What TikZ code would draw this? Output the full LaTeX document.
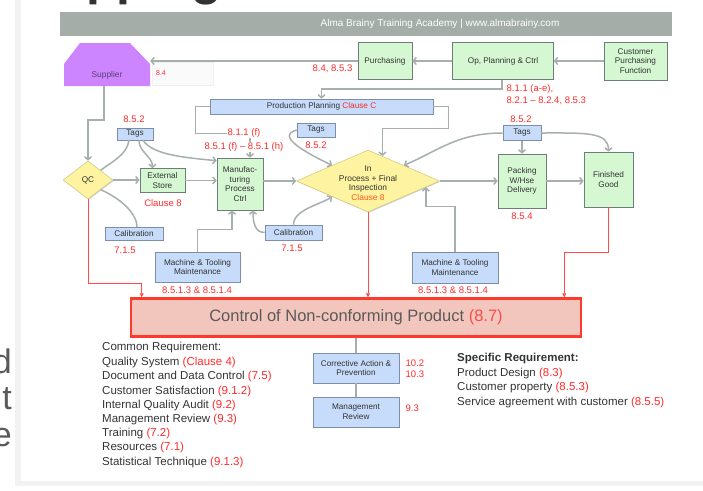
\documentclass[tikz,border=0pt]{standalone}
\usepackage{fontspec}
\setmainfont{Liberation Sans}
\usetikzlibrary{arrows.meta,shapes.geometric,shadows}
\definecolor{hdr}{HTML}{A4ADA8}
\definecolor{gfill}{HTML}{D5F7D2}
\definecolor{gline}{HTML}{6E7D78}
\definecolor{bfill}{HTML}{C6DCFA}
\definecolor{bline}{HTML}{7D8FA8}
\definecolor{yfill}{HTML}{FDF3A0}
\definecolor{yline}{HTML}{D6CC84}
\definecolor{cgray}{HTML}{A7AFAC}
\definecolor{rline}{HTML}{FF4B4B}
\definecolor{rtext}{HTML}{FF2A2A}
\definecolor{otext}{HTML}{FF5A1A}
\definecolor{purp}{HTML}{CC85FF}
\definecolor{suptext}{HTML}{5B3D78}
\definecolor{ncfill}{HTML}{F3C6BD}
\definecolor{ncline}{HTML}{FF3A2A}
\definecolor{txt}{HTML}{333333}
\definecolor{ltxt}{HTML}{5A5A5A}
\tikzset{
  box/.style={draw, line width=0.6pt, align=center, inner sep=1pt, text=txt,
    font=\fontsize{8.2}{9.8}\selectfont,
    drop shadow={shadow xshift=0.8pt,shadow yshift=-0.8pt,opacity=0.25,fill=black}},
  gbox/.style={box, fill=gfill, draw=gline},
  bbox/.style={box, fill=bfill, draw=bline},
  ydia/.style={diamond, fill=yfill, draw=yline, line width=0.6pt, inner sep=0pt,
    align=center, text=txt, font=\fontsize{8.2}{9.8}\selectfont,
    drop shadow={shadow xshift=0.8pt,shadow yshift=-0.8pt,opacity=0.2,fill=black}},
  dtext/.style={align=center, inner sep=0pt, text=txt, font=\fontsize{8.4}{9.6}\selectfont},
  conn/.style={draw=cgray, line width=1.5pt, -{Straight Barb[length=3pt,width=7pt]}},
  plain/.style={draw=cgray, line width=1.5pt},
  rconn/.style={draw=rline, line width=0.8pt, -{Triangle[length=4pt,width=4pt]}},
  rlab/.style={text=rtext, inner sep=0.5pt, font=\fontsize{9.5}{11}\selectfont},
  lst/.style={anchor=mid west, inner sep=0pt, text=txt, font=\fontsize{11.5}{14}\selectfont},
}
\begin{document}
\begin{tikzpicture}[x=1pt,y=-1pt]
\useasboundingbox (0,0) rectangle (703,490);
% surrounding page
\node[anchor=base west, inner sep=0pt, text=txt, font=\fontsize{50}{50}\selectfont\bfseries] (ttl) at (86,-5.5) {pping};
\node[anchor=base east, inner sep=0pt, text=ltxt, font=\fontsize{34}{34}\selectfont] (la) at (12,373) {d};
\node[anchor=base east, inner sep=0pt, text=ltxt, font=\fontsize{34}{34}\selectfont] (lb) at (12,409) {t};
\node[anchor=base east, inner sep=0pt, text=ltxt, font=\fontsize{34}{34}\selectfont] (lc) at (12,446) {e};
\fill[gray!10] (15,-2) rectangle (21,486);
\fill[gray!10] (15,481) rectangle (710,486);
% header
\node[fill=hdr, minimum width=612, minimum height=24, inner sep=0pt] (hdr) at (366,24) {};
\node[text=white, inner sep=0pt, font=\fontsize{10}{12}\selectfont] (hdrt) at (440,24) {Alma Brainy Training Academy | www.almabrainy.com};
% supplier
\fill[purp] (80,43) -- (130,43) -- (150,64) -- (150,86) -- (64,86) -- (64,64) -- cycle;
\node[inner sep=0pt, minimum width=86, minimum height=22, text=suptext, font=\fontsize{8.4}{10}\selectfont] (sup) at (107,75) {Supplier};
\node[draw=gray!12, fill=gray!4, minimum width=61, minimum height=23, inner sep=0pt] (fb) at (182.5,74) {};
\node[rlab, font=\fontsize{7}{8}\selectfont] (supr) at (161,73) {8.4};
% top row
\node[gbox, minimum width=54, minimum height=37] (pur) at (385,61) {Purchasing};
\node[gbox, minimum width=101, minimum height=37] (op) at (503,61) {Op, Planning \& Ctrl};
\node[gbox, minimum width=63, minimum height=38] (cust) at (635.5,61) {Customer\\Purchasing\\Function};
\node[rlab, anchor=east] (purr) at (353,69) {8.4, 8.5.3};
\node[rlab, anchor=west] (opr1) at (506,89) {8.1.1 (a-e),};
\node[rlab, anchor=west] (opr2) at (506,101) {8.2.1 – 8.2.4, 8.5.3};
% production planning
\node[bbox, minimum width=223, minimum height=15] (pp) at (321.5,106.5) {Production Planning \textcolor{rtext}{Clause C}};
% left part
\node[bbox, minimum width=36, minimum height=12] (tags1) at (135,134) {Tags};
\node[rlab] (tags1r) at (134,119) {8.5.2};
\node[ydia, minimum width=50, minimum height=38] (qc) at (88,180) {QC};
\node[gbox, minimum width=45, minimum height=24] (ext) at (162.5,180.5) {External\\Store};
\node[rlab] (extr) at (163,203) {Clause 8};
\node[gbox, minimum width=46, minimum height=52] (man) at (240,184) {Manufac-\\turing\\Process\\Ctrl};
\node[bbox, minimum width=58, minimum height=13] (cal1) at (134,234) {Calibration};
\node[rlab] (cal1r) at (125,250) {7.1.5};
\node[bbox, minimum width=85, minimum height=30] (mtm1) at (197.5,267) {Machine \& Tooling\\Maintenance};
\node[rlab] (mtm1r) at (197,290) {8.5.1.3 \& 8.5.1.4};
\node[bbox, minimum width=57, minimum height=15] (cal2) at (293.5,232.5) {Calibration};
\node[rlab] (cal2r) at (292,248) {7.1.5};
% middle
\node[bbox, minimum width=38, minimum height=14] (tags2) at (316,130) {Tags};
\node[rlab] (tags2r) at (316,145) {8.5.2};
\node[ydia, minimum width=143, minimum height=62] (ip) at (368,181) {};
\node[dtext] (ipt) at (368,183) {In\\Process + Final\\Inspection\\\textcolor{otext}{Clause 8}};
\node[bbox, minimum width=86, minimum height=31] (mtm2) at (455,267.5) {Machine \& Tooling\\Maintenance};
\node[rlab] (mtm2r) at (453,290) {8.5.1.3 \& 8.5.1.4};
% right
\node[bbox, minimum width=38, minimum height=15] (tags3) at (522,133) {Tags};
\node[rlab] (tags3r) at (521,119) {8.5.2};
\node[gbox, minimum width=48, minimum height=54] (pack) at (522,181) {Packing\\W/Hse\\Delivery};
\node[rlab] (packr) at (522,216) {8.5.4};
\node[gbox, minimum width=49, minimum height=55] (fin) at (608.5,179.5) {Finished\\Good};
% NC box
\node[fill=ncfill, draw=ncline, line width=2.5pt, minimum width=450, minimum height=38, inner sep=0pt,
  text=ltxt, font=\fontsize{16.5}{18}\selectfont,
  drop shadow={shadow xshift=1pt,shadow yshift=-1pt,opacity=0.25,fill=black}] (nc) at (356,317.5)
  {Control of Non-conforming Product \textcolor{rline}{(8.7)}};
\node[bbox, minimum width=86, minimum height=30] (ca) at (356,368) {Corrective Action \&\\Prevention};
\node[bbox, minimum width=86, minimum height=30] (mr) at (356,412) {Management\\Review};
\node[rlab, anchor=west] (car1) at (405,363) {10.2};
\node[rlab, anchor=west] (car2) at (405,374) {10.3};
\node[rlab, anchor=west] (mrr) at (405,408) {9.3};
% lists
\node[lst] (ll0) at (102,348) {Common Requirement:};
\node[lst] (ll1) at (102,362.5) {Quality System \textcolor{rtext}{(Clause 4)}};
\node[lst] (ll2) at (102,377) {Document and Data Control \textcolor{rtext}{(7.5)}};
\node[lst] (ll3) at (102,391.5) {Customer Satisfaction \textcolor{rtext}{(9.1.2)}};
\node[lst] (ll4) at (102,405.5) {Internal Quality Audit \textcolor{rtext}{(9.2)}};
\node[lst] (ll5) at (102,420) {Management Review \textcolor{rtext}{(9.3)}};
\node[lst] (ll6) at (102,434) {Training \textcolor{rtext}{(7.2)}};
\node[lst] (ll7) at (102,448) {Resources \textcolor{rtext}{(7.1)}};
\node[lst] (ll8) at (102,462.5) {Statistical Technique \textcolor{rtext}{(9.1.3)}};
\node[lst, font=\fontsize{11.5}{14}\selectfont\bfseries] (rl0) at (457,359) {Specific Requirement:};
\node[lst] (rl1) at (457,373.5) {Product Design \textcolor{rtext}{(8.3)}};
\node[lst] (rl2) at (457,388) {Customer property \textcolor{rtext}{(8.5.3)}};
\node[lst] (rl3) at (457,402.5) {Service agreement with customer \textcolor{rtext}{(8.5.5)}};
% connectors
\draw[conn] (cust) -- (op);
\draw[conn] (op) -- (pur);
\draw[conn] (pur.west) -- (pur.west -| sup.east);
\draw[conn] ([xshift=-1pt]op.south) -- ++(0,9) -| (pp.north);
\draw[conn] ([xshift=-3pt]sup.south) -- ++(0,34) -| (qc.north);
\draw[conn] (pp.west) -| ++(-14,27) -| ([xshift=10pt]man.north);
\draw[conn] (qc.east) -- (qc.east -| ext.west);
\draw[conn] (ext.east) -- (ext.east -| man.west);
\draw[conn] (ip.west -| man.east) -- (ip.west);
\draw[conn] ([xshift=4pt]tags1.south) .. controls +(0,12) and +(0,-12) .. ([xshift=-10pt]ext.north);
\draw[conn] ([xshift=8pt]tags1.south) .. controls +(10,15) and +(-30,-3) .. ([yshift=-3pt]man.north west);
\draw[plain] ([xshift=-6pt]tags1.south) .. controls +(-2,15) and +(10,-8) .. (qc.north east);
\draw[plain] (qc.south east) .. controls +(18,8) and +(0,-15) .. ([xshift=3pt]cal1.north);
\draw[conn] (mtm1.north) -- ++(0,-22) -| ([xshift=-8pt]man.south);
\draw[conn] (cal2.west) .. controls +(-10,0) and +(0,12) .. ([xshift=13pt]man.south);
\draw[conn] (cal2.north) .. controls +(0,-15) and +(-12,8) .. (ip.south west);
\draw[conn] (tags2.west) .. controls +(-22,6) and +(-25,-12) .. (ip.north west);
\draw[conn] (pp.east) -| ++(15,22) -| (ip.60);
\draw[conn] (tags3.west) .. controls +(-45,0) and +(35,-15) .. (ip.north east);
\draw[conn] (tags3.south) -- (pack.north);
\draw[conn] (tags3.east) .. controls +(45,0) and +(0,-20) .. (fin.north);
\draw[conn] (ip.east) -- (pack.west);
\draw[conn] (pack.east) -- (pack.east -| fin.west);
\draw[conn] (mtm2.north) -- ++(0,-45) -| (ip.-6);
\draw[rconn] (qc.south) -- ++(0,84) -| ([xshift=12pt]nc.north west);
\draw[rconn] (ip.south) -- (ip.south |- nc.north);
\draw[rconn] (fin.south) -- ++(0,45) -| ([xshift=-18pt]nc.north east);
\draw[plain] (nc.south) -- (ca.north);
\draw[plain] (ca.south) -- (mr.north);
% labels over lines
\node[rlab, fill=white] (manr1) at (244,133) {8.1.1 (f)};
\node[rlab, fill=white] (manr2) at (244,147) {8.5.1 (f) – 8.5.1 (h)};
\end{tikzpicture}
\end{document}
